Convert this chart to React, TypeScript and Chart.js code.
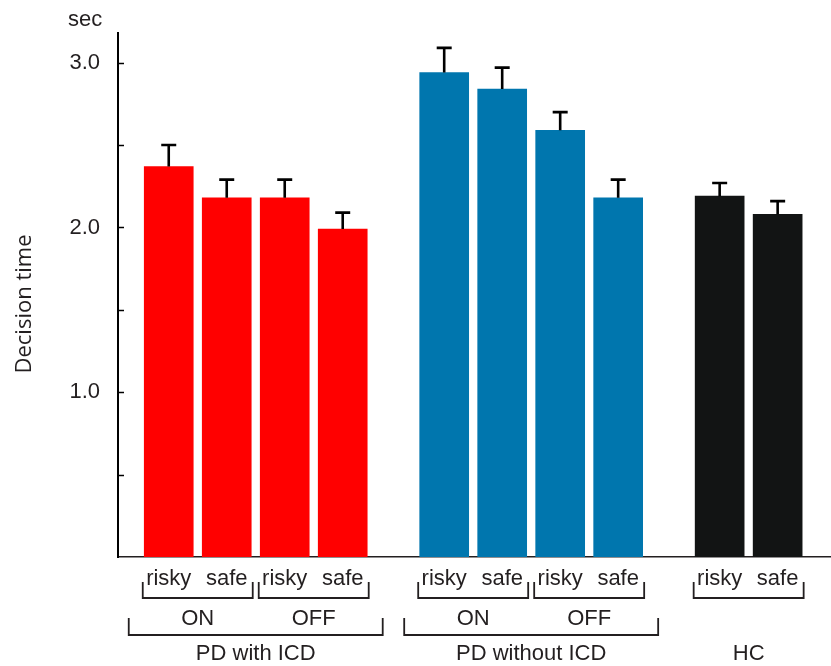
import React, { useEffect, useRef } from "react";
import { Chart, registerables } from "chart.js";

Chart.register(...registerables);

// ---- data ----
const groups = ["PD with ICD", "PD without ICD", "HC"];
const conditions = [["ON", "OFF"], ["ON", "OFF"], [""]];
const choices = ["risky", "safe"];
const pdIcdMeans = [2.37, 2.18, 2.18, 1.99];
const pdIcdErrors = [0.13, 0.11, 0.11, 0.1];
const pdNoIcdMeans = [2.94, 2.84, 2.59, 2.18];
const pdNoIcdErrors = [0.15, 0.13, 0.11, 0.11];
const hcMeans = [2.19, 2.08];
const hcErrors = [0.08, 0.08];
const yTickLabels = ["1.0", "2.0", "3.0"];
const yUnit = "sec";
const yTitle = "Decision time";

const groupMeans = [pdIcdMeans, pdNoIcdMeans, hcMeans];
const groupErrors = [pdIcdErrors, pdNoIcdErrors, hcErrors];
const groupColors = ["#ff0000", "#0076ae", "#121414"];

const GROUP_GAP = 1.75; // slot distance between last bar of a group and first of next

export default function App() {
  const ref = useRef<HTMLCanvasElement | null>(null);

  useEffect(() => {
    document.body.style.margin = "0";
    const canvas = ref.current;
    if (!canvas) return;

    // slot positions from group structure
    const positions: number[][] = [];
    let p = 0;
    groupMeans.forEach((vals) => {
      const arr: number[] = [];
      vals.forEach(() => {
        arr.push(p);
        p += 1;
      });
      positions.push(arr);
      p += GROUP_GAP - 1;
    });

    const datasets = groupMeans.map((vals, gi) => ({
      label: groups[gi],
      data: vals.map((v, i) => ({ x: positions[gi][i], y: v })),
      backgroundColor: groupColors[gi],
      borderWidth: 0,
      barThickness: 49,
      grouped: false,
      errors: groupErrors[gi],
    }));

    const font = '22px "Liberation Sans", Arial, sans-serif';
    const textColor = "#231f20";

    const overlay = {
      id: "overlay",
      afterDraw(chart: any) {
        const ctx = chart.ctx;
        const area = chart.chartArea;
        const xs = chart.scales.x;
        const ys = chart.scales.y;
        ctx.save();
        // inner y ticks
        ctx.strokeStyle = "#000";
        ctx.lineWidth = 1.5;
        ys.ticks.forEach((t: any) => {
          if (t.value <= 0) return;
          const y = Math.round(ys.getPixelForValue(t.value)) + 0.5;
          ctx.beginPath();
          ctx.moveTo(area.left, y);
          ctx.lineTo(area.left + 6, y);
          ctx.stroke();
        });
        // error bars
        ctx.lineWidth = 2.6;
        ctx.strokeStyle = "#000";
        chart.data.datasets.forEach((ds: any, di: number) => {
          const meta = chart.getDatasetMeta(di);
          meta.data.forEach((el: any, i: number) => {
            const v = ds.data[i].y;
            const top = ys.getPixelForValue(v + ds.errors[i]);
            ctx.beginPath();
            ctx.moveTo(el.x, el.y);
            ctx.lineTo(el.x, top);
            ctx.moveTo(el.x - 7.5, top);
            ctx.lineTo(el.x + 7.5, top);
            ctx.stroke();
          });
        });
        // unit label
        ctx.fillStyle = textColor;
        ctx.font = font;
        ctx.textAlign = "left";
        ctx.textBaseline = "alphabetic";
        ctx.fillText(yUnit, 68, 26);
        // y title
        ctx.save();
        ctx.translate(25, 304);
        ctx.rotate(-Math.PI / 2);
        ctx.font = '22px "Open Sans", sans-serif';
        ctx.textAlign = "center";
        ctx.textBaseline = "middle";
        ctx.fillText(yTitle, 0, 0);
        ctx.restore();

        // x labels and brackets
        const half = (xs.getPixelForValue(1) - xs.getPixelForValue(0)) / 2;
        ctx.font = font;
        ctx.textAlign = "center";
        ctx.lineWidth = 1.8;
        ctx.strokeStyle = "#231f20";
        const bracket = (l: number, r: number, y0: number, y1: number) => {
          ctx.beginPath();
          ctx.moveTo(l, y0);
          ctx.lineTo(l, y1);
          ctx.lineTo(r, y1);
          ctx.lineTo(r, y0);
          ctx.stroke();
        };
        positions.forEach((arr, gi) => {
          const px = arr.map((v) => xs.getPixelForValue(v));
          px.forEach((x, i) => {
            ctx.fillText(choices[i % choices.length], x, 585);
          });
          const conds = conditions[gi];
          let gl = Infinity;
          let gr = -Infinity;
          conds.forEach((c, ci) => {
            const a = px[ci * 2];
            const b = px[ci * 2 + 1];
            const l = a - half + 3;
            const r = b + half - 3;
            bracket(l, r, 582, 598);
            if (c) ctx.fillText(c, (a + b) / 2, 625);
            gl = Math.min(gl, l);
            gr = Math.max(gr, r);
          });
          if (conds.length > 1) {
            bracket(gl - 14, gr + 14, 618, 635);
          }
          ctx.fillText(groups[gi], (px[0] + px[px.length - 1]) / 2, 660);
        });
        ctx.restore();
      },
    };

    const chart = new Chart(canvas, {
      type: "bar",
      data: { datasets: datasets as any },
      options: {
        animation: false,
        responsive: false,
        maintainAspectRatio: false,
        layout: { padding: { top: 33, bottom: 109, left: 0, right: 0 } },
        plugins: { legend: { display: false }, tooltip: { enabled: false } },
        scales: {
          x: {
            type: "linear",
            offset: false,
            min: -0.875,
            max: 11.42,
            ticks: { display: false },
            grid: { display: false, drawTicks: false, offset: false },
            border: { display: true, color: "#231f20", width: 1.5 },
            afterFit: (s: any) => {
              s.height = 0;
            },
          },
          y: {
            min: 0,
            max: 3.18,
            ticks: {
              stepSize: 0.5,
              includeBounds: false,
              padding: 18,
              color: textColor,
              font: { family: '"Liberation Sans", Arial, sans-serif', size: 22 },
              callback: (v: any) => {
                const s = Number(v).toFixed(1);
                return yTickLabels.includes(s) ? s : "";
              },
            },
            grid: { display: false, drawTicks: false },
            border: { display: true, color: "#000", width: 2 },
            afterFit: (s: any) => {
              s.width = 118;
            },
          },
        },
      },
      plugins: [overlay],
    });
    return () => chart.destroy();
  }, []);

  return (
    <canvas
      ref={ref}
      width={831}
      height={666}
      style={{ display: "block", width: 831, height: 666 }}
    />
  );
}
